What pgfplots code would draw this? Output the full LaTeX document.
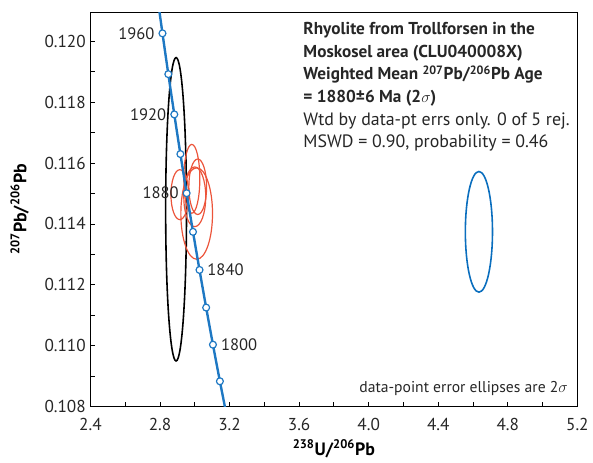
\documentclass[border=0pt]{standalone}
\usepackage{pgfplots}
\pgfplotsset{compat=1.18}
\usepackage{fontspec}
\setmainfont{PT Sans}

\definecolor{concblue}{RGB}{30,120,195}
\definecolor{ellred}{RGB}{236,84,58}
\definecolor{ellblue}{RGB}{10,110,190}

\begin{document}
\begin{tikzpicture}
\begin{axis}[
    name=ax,
    scale only axis,
    width=367.5pt, height=297.75pt,
    xmin=2.4, xmax=5.2,
    ymin=0.108, ymax=0.12095,
    xtick={2.4,2.8,3.2,3.6,4.0,4.4,4.8,5.2},
    ytick={0.108,0.110,0.112,0.114,0.116,0.118,0.120},
    minor x tick num=1, minor y tick num=1,
    tick align=inside, tick pos=left,
    major tick length=3.5pt, minor tick length=3.5pt,
    every tick/.style={black, line width=0.6pt},
    axis line style={black, line width=0.9pt},
    scaled x ticks=false, scaled y ticks=false,
    /pgf/number format/assume math mode=true,
    xticklabel style={yshift=-5pt, /pgf/number format/fixed, /pgf/number format/fixed zerofill, /pgf/number format/precision=1},
    yticklabel style={/pgf/number format/fixed, /pgf/number format/fixed zerofill, /pgf/number format/precision=3},
    ticklabel style={font=\fontsize{13}{15}\selectfont, text=black!85},
    xlabel={\textbf{\textsuperscript{238}U/\textsuperscript{206}Pb}},
    ylabel={\textbf{\textsuperscript{207}Pb/\textsuperscript{206}Pb}},
    label style={font=\fontsize{13.5}{15}\selectfont},
    ylabel shift=5pt,
    clip=true,
]

% error ellipses (2 sigma), centre and half-axes in data units
\draw[black, line width=1.2pt] (axis cs:2.8926,0.11448) ellipse [x radius=0.060, y radius=0.00498];
\draw[ellred, line width=0.9pt] (axis cs:2.983,0.11548) ellipse [x radius=0.046, y radius=0.00113];
\draw[ellred, line width=0.9pt] (axis cs:3.017,0.11522) ellipse [x radius=0.051, y radius=0.00091];
\draw[ellred, line width=0.9pt] (axis cs:2.914,0.11496) ellipse [x radius=0.051, y radius=0.00082];
\draw[ellred, line width=0.9pt] (axis cs:3.011,0.11434) ellipse [x radius=0.091, y radius=0.00150];
\draw[ellred, line width=0.9pt] (axis cs:3.000,0.11489) ellipse [x radius=0.063, y radius=0.00098];
\draw[ellblue, line width=1.2pt] (axis cs:4.634,0.11374) ellipse [x radius=0.078, y radius=0.00198];

% concordia curve
\addplot[concblue, line width=1.8pt, no marks, smooth] coordinates {
    (3.18545,0.107649) (3.14456,0.108834) (3.10458,0.110036) (3.06548,0.111254)
    (3.02724,0.112489) (2.98983,0.113740) (2.95322,0.115008) (2.91736,0.116293)
    (2.88229,0.117594) (2.84793,0.118916) (2.81428,0.120255) (2.78133,0.121611)
};
% age markers every 20 Ma (1780 ... 1960)
\addplot[only marks, mark=*, mark size=2.6pt, mark options={fill=white, draw=concblue, line width=0.9pt}] coordinates {
    (3.14456,0.108834) (3.10458,0.110036) (3.06548,0.111254) (3.02724,0.112489)
    (2.98983,0.113740) (2.95322,0.115008) (2.91736,0.116293) (2.88229,0.117594)
    (2.84793,0.118916) (2.81428,0.120255)
};

\begin{scope}[font=\fontsize{12.5}{14}\selectfont, text=black!85]
\node[anchor=east] at (axis cs:2.795,0.120255) {1960};
\node[anchor=east] at (axis cs:2.863,0.117594) {1920};
\node[anchor=east] at (axis cs:2.934,0.115008) {1880};
\node[anchor=west] at (axis cs:3.046,0.112489) {1840};
\node[anchor=west] at (axis cs:3.124,0.110036) {1800};
\end{scope}

\node[anchor=north west, inner sep=0pt, align=left, text=black!85,
      font=\fontsize{13}{17.1}\selectfont] at (rel axis cs:0.437,0.975)
  {\textbf{Rhyolite from Trollforsen in the}\\
   \textbf{Moskosel area (CLU040008X)}\\
   \textbf{Weighted Mean \textsuperscript{207}Pb/\textsuperscript{206}Pb Age}\\
   \textbf{= 1880\textpm6 Ma (2$\sigma$)}\\
   {\fontsize{13.5}{17.1}\selectfont Wtd by data-pt errs only. 0 of 5 rej.}\\
   {\fontsize{13.5}{17.1}\selectfont MSWD = 0.90, probability = 0.46}};

\node[anchor=base east, inner sep=0pt, text=black!85,
      font=\fontsize{11.8}{14}\selectfont] at (rel axis cs:0.981,0.036)
  {data-point error ellipses are 2$\sigma$};
\end{axis}
\path (ax.south west) ++(-68.25pt,-38.8pt);
\path (ax.north east) ++(9pt,9.2pt);
\end{tikzpicture}
\end{document}
